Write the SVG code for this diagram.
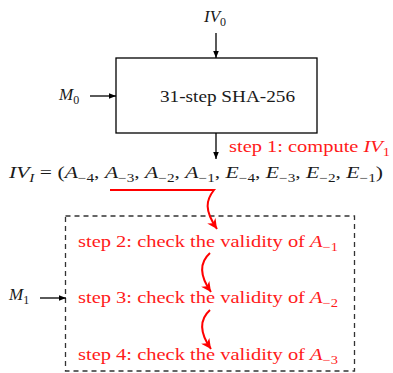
<svg xmlns="http://www.w3.org/2000/svg" width="393" height="373" viewBox="0 0 393 373">
<defs>
<marker id="ab" viewBox="0 0 10 10" refX="10" refY="5" markerWidth="7" markerHeight="7" markerUnits="userSpaceOnUse" orient="auto"><path d="M0,1 L10,5 L0,9 Z" fill="#000"/></marker>
<marker id="ar" viewBox="0 0 10 10" refX="10" refY="5" markerWidth="10" markerHeight="10" markerUnits="userSpaceOnUse" orient="auto"><path d="M0,0 L10,5 L0,10 L3,5 Z" fill="#ff0000"/></marker>
</defs>
<style>
text{font-family:"Liberation Serif","DejaVu Serif",serif;font-size:17px;fill:#1a1a1a}
.red{fill:#ff1a1a}
.it{font-style:italic}
.sub{font-size:12px}
.blk{stroke:#000;stroke-width:1.3;fill:none}
.rc{stroke:#ff0000;stroke-width:2;fill:none}
</style>
<g id="iv0"><text x="204" y="22"><tspan class="it">IV</tspan><tspan class="sub" dy="4">0</tspan></text></g>
<g id="m0"><text x="59" y="100"><tspan class="it">M</tspan><tspan class="sub" dy="4">0</tspan></text></g>
<g id="sha"><rect x="116" y="58" width="201" height="75" class="blk"/><text x="160" y="102" textLength="135" lengthAdjust="spacingAndGlyphs">31-step SHA-256</text></g>
<g id="step1"><text x="229" y="152" class="red" textLength="161" lengthAdjust="spacingAndGlyphs">step 1: compute <tspan class="it red">IV</tspan><tspan class="sub red" dy="4">1</tspan></text></g>
<g id="ivi"><text x="9" y="178" textLength="374" lengthAdjust="spacingAndGlyphs"><tspan class="it">IV</tspan><tspan class="sub it" dy="4">I</tspan><tspan dy="-4"> = (</tspan><tspan class="it">A</tspan><tspan class="sub" dy="4">−4</tspan><tspan dy="-4">, </tspan><tspan class="it">A</tspan><tspan class="sub" dy="4">−3</tspan><tspan dy="-4">, </tspan><tspan class="it">A</tspan><tspan class="sub" dy="4">−2</tspan><tspan dy="-4">, </tspan><tspan class="it">A</tspan><tspan class="sub" dy="4">−1</tspan><tspan dy="-4">, </tspan><tspan class="it">E</tspan><tspan class="sub" dy="4">−4</tspan><tspan dy="-4">, </tspan><tspan class="it">E</tspan><tspan class="sub" dy="4">−3</tspan><tspan dy="-4">, </tspan><tspan class="it">E</tspan><tspan class="sub" dy="4">−2</tspan><tspan dy="-4">, </tspan><tspan class="it">E</tspan><tspan class="sub" dy="4">−1</tspan><tspan dy="-4">)</tspan></text></g>
<g id="check"><rect x="65.5" y="216" width="289" height="155" fill="none" stroke="#333" stroke-width="1.3" stroke-dasharray="5,4"/>
<text x="78" y="247" class="red" textLength="260" lengthAdjust="spacingAndGlyphs">step 2: check the validity of <tspan class="it red">A</tspan><tspan class="sub red" dy="4">−1</tspan></text>
<text x="78" y="303" class="red" textLength="260" lengthAdjust="spacingAndGlyphs">step 3: check the validity of <tspan class="it red">A</tspan><tspan class="sub red" dy="4">−2</tspan></text>
<text x="78" y="360" class="red" textLength="260" lengthAdjust="spacingAndGlyphs">step 4: check the validity of <tspan class="it red">A</tspan><tspan class="sub red" dy="4">−3</tspan></text></g>
<g id="m1"><text x="9" y="300"><tspan class="it">M</tspan><tspan class="sub" dy="4">1</tspan></text></g>
<g id="connectors">
<line x1="216" y1="33" x2="216" y2="58" class="blk" marker-end="url(#ab)"/>
<line x1="90" y1="96" x2="116" y2="96" class="blk" marker-end="url(#ab)"/>
<line x1="216" y1="133" x2="216" y2="159" class="blk" marker-end="url(#ab)"/>
<line x1="40" y1="298" x2="66" y2="298" class="blk" marker-end="url(#ab)"/>
<path d="M110,190 L214,190 C206,200 204,210 217,229" class="rc" marker-end="url(#ar)"/>
<path d="M210,253 C200,262 199,275 211,292" class="rc" marker-end="url(#ar)"/>
<path d="M210,310 C200,319 199,332 211,349" class="rc" marker-end="url(#ar)"/>
</g>
</svg>
